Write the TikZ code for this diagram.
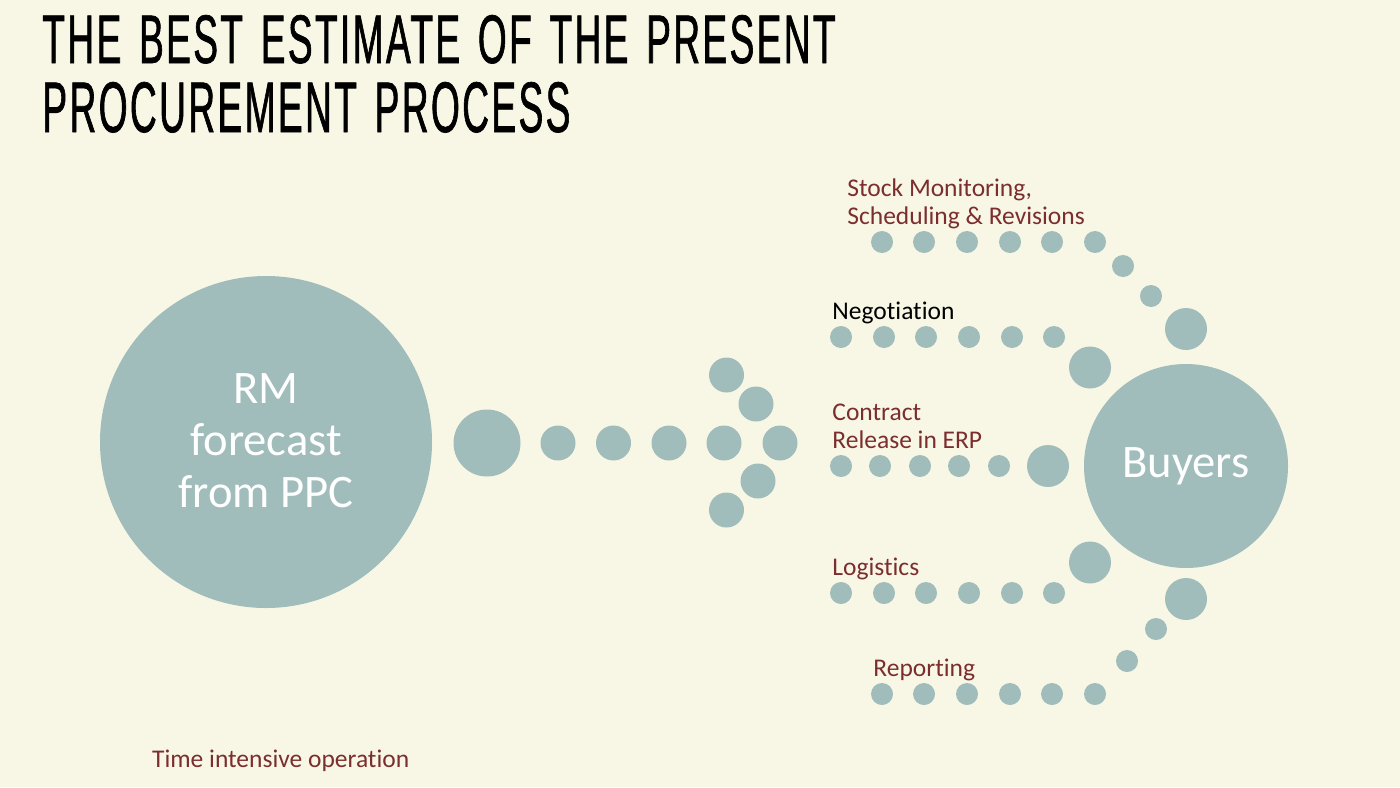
\documentclass[tikz,border=0pt]{standalone}
\usepackage{fontspec}
\setmainfont{Carlito}[Ligatures=NoCommon]
\newfontfamily\titlefont{Liberation Sans}[FakeStretch=0.62,FakeBold=1,LetterSpace=4,WordSpace=1.4]
\definecolor{paper}{HTML}{F8F7E6}
\definecolor{bead}{HTML}{A0BCBB}
\definecolor{rust}{HTML}{7B2E2E}
\begin{document}
\begin{tikzpicture}[x=0.5pt,y=-0.5pt,
  beadS/.style={circle,fill=bead,inner sep=0pt,minimum size=11pt},
  beadM/.style={circle,fill=bead,inner sep=0pt,minimum size=17.5pt},
  beadL/.style={circle,fill=bead,inner sep=0pt,minimum size=21pt},
  beadXL/.style={circle,fill=bead,inner sep=0pt,minimum size=33.5pt},
  hub/.style={circle,fill=bead,inner sep=0pt,text=white,font=\fontsize{23.3pt}{26pt}\selectfont,align=center},
  lbl/.style={anchor=base west,inner sep=0pt,text=rust,font=\fontsize{12.75pt}{14pt}\selectfont},
  ttl/.style={anchor=base west,inner sep=0pt,text=black}]
% page
\fill[paper] (0,0) rectangle (1400,787);
\useasboundingbox (0,0) rectangle (1400,787);

% heading
\node[ttl] (title1) at (42,63) {\resizebox{396.5pt}{24pt}{\titlefont THE BEST ESTIMATE OF THE PRESENT}};
\node[ttl] (title2) at (42,132) {\resizebox{264pt}{25pt}{\titlefont PROCUREMENT PROCESS}};

% source and target hubs
\node[hub,minimum size=166pt] (rm) at (266,442) {};
\node[text=white,font=\fontsize{23.3pt}{26pt}\selectfont,align=center,inner sep=0pt] (rmtext) at (266,440.5) {RM\\forecast\\from PPC};
\node[hub,minimum size=102pt] (buyers) at (1186,466) {Buyers};

% arrow of beads
\node[beadXL] (a0) at (487,443) {};
\node[beadM] (a1) at (558,443) {};
\node[beadM] (a2) at (613.5,443) {};
\node[beadM] (a3) at (669,443) {};
\node[beadM] (a4) at (724,443) {};
\node[beadM] (a5) at (780,443) {};
\node[beadM] (u1) at (756,404) {};
\node[beadM] (u2) at (726.5,375) {};
\node[beadM] (d1) at (758,481) {};
\node[beadM] (d2) at (726.5,510) {};

% stock monitoring path
\foreach \x [count=\i] in {882,924,967,1010,1052,1095}
  \node[beadS] (s\i) at (\x,242) {};
\node[beadS] (s7) at (1123,266) {};
\node[beadS] (s8) at (1151,296) {};
\node[beadL] (s9) at (1186,329) {};
\node[lbl] (stockA) at (847,196) {Stock Monitoring,};
\node[lbl] (stockB) at (847,224) {Scheduling \& Revisions};

% negotiation path
\foreach \x [count=\i] in {841,884,926,969,1012,1054}
  \node[beadS] (n\i) at (\x,337) {};
\node[beadL] (n7) at (1090,367.5) {};
\node[lbl,text=black] (nego) at (832,319) {Negotiation};

% contract path
\foreach \x [count=\i] in {841,880,920,959,999}
  \node[beadS] (c\i) at (\x,466) {};
\node[beadL] (c6) at (1048,466) {};
\node[lbl] (contA) at (832,420.7) {Contract};
\node[lbl] (contB) at (832,448) {Release in ERP};

% logistics path
\foreach \x [count=\i] in {841,884,926,969,1012,1054}
  \node[beadS] (l\i) at (\x,593) {};
\node[beadL] (l7) at (1090,562.5) {};
\node[lbl] (logi) at (832,575.7) {Logistics};

% reporting path
\foreach \x [count=\i] in {882,924,967,1010,1052,1095}
  \node[beadS] (r\i) at (\x,694) {};
\node[beadS] (r7) at (1127,661) {};
\node[beadS] (r8) at (1156,629) {};
\node[beadL] (r9) at (1186,599) {};
\node[lbl] (repo) at (873,676.7) {Reporting};

% footnote
\node[lbl] (note) at (151.7,767.7) {Time intensive operation};
\end{tikzpicture}
\end{document}
